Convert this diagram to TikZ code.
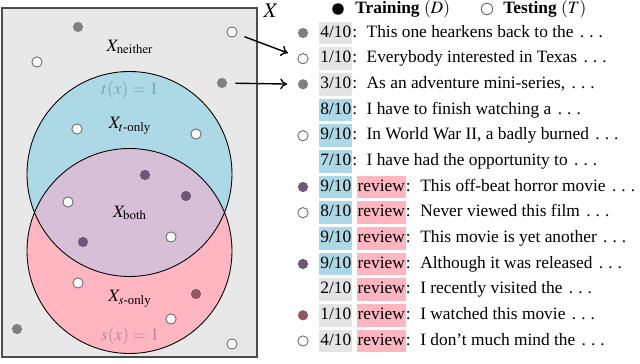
\documentclass[tikz,border=0pt]{standalone}
\usepackage{amsmath}
\usepackage{mathptmx}
\usepackage{fontspec}
\setmainfont{Liberation Serif}
\usepackage{tikz}
\usetikzlibrary{positioning,arrows.meta}
\definecolor{spacegray}{RGB}{232,232,232}
\definecolor{tblue}{RGB}{173,216,230}
\definecolor{spink}{RGB}{255,182,193}
\definecolor{bothpurple}{RGB}{216,191,216}
\definecolor{tlabel}{RGB}{122,162,176}
\definecolor{slabel}{RGB}{182,132,148}
\definecolor{dotgray}{RGB}{128,128,128}
\definecolor{dotpurple}{RGB}{110,88,120}
\definecolor{dotred}{RGB}{145,88,100}
\definecolor{ringgray}{RGB}{105,105,105}
\definecolor{boxgray}{RGB}{228,228,228}
\definecolor{boxblue}{RGB}{173,216,230}
\definecolor{revpink}{RGB}{255,182,193}
\newcommand{\scorebox}[2]{{\setlength{\fboxsep}{0.6pt}\colorbox{#1}{\strut #2}}}
\newcommand{\rvw}{\scorebox{revpink}{review}}
\newcommand{\more}{\kern1.2pt.\kern2.9pt.\kern2.9pt.}

\begin{document}
\begin{tikzpicture}[x=0.576pt, y=-0.576pt,
  font=\fontsize{10}{12}\selectfont,
  pt/.style={circle, inner sep=0pt, minimum size=5.9pt},
  trn/.style={pt, fill=dotgray},
  trnboth/.style={pt, fill=dotpurple},
  trnsonly/.style={pt, fill=dotred},
  tst/.style={pt, draw=ringgray, fill=white, line width=0.5pt},
  row/.style={anchor=west, inner sep=0pt},
  arr/.style={-{To[length=1.4mm, width=2.2mm]}, thick, shorten <=4.5pt, shorten >=6pt}
]
  \useasboundingbox (0,0) rectangle (640,364);

  % the space X and the two sets
  \draw[fill=spacegray, draw=black!70, line width=0.6pt] (2,8) rectangle (257,357);
  \fill[tblue] (129.5,174) circle [radius=102.5];
  \fill[spink] (129.5,251) circle [radius=102.5];
  \begin{scope}
    \clip (129.5,174) circle [radius=102.5];
    \fill[bothpurple] (129.5,251) circle [radius=102.5];
  \end{scope}
  \draw[line width=0.5pt] (129.5,174) circle [radius=102.5];
  \draw[line width=0.5pt] (129.5,251) circle [radius=102.5];

  \node (xlab) at (271,11) {\large $X$};
  \node (lneither) at (130,47) {$X_{\mathrm{neither}}$};
  \node[text=tlabel] (ltx) at (130,90) {$t(x)=1$};
  \node (ltonly) at (130,126) {$X_{t\text{-only}}$};
  \node (lboth) at (130,213) {$X_{\mathrm{both}}$};
  \node (lsonly) at (130,299) {$X_{s\text{-only}}$};
  \node[text=slabel] (lsx) at (130,336) {$s(x)=1$};

  % points in X
  \foreach \x/\y/\s [count=\i] in {78/27/trn, 232/32/tst, 37/62/tst, 222/83/trn,
      77/129/tst, 196/134/tst, 145/175/trnboth, 186/196/trnboth, 68/202/tst,
      83/242/trnboth, 171/237/tst, 78/283/tst, 196/294/trnsonly, 171/319/tst,
      17/329/trn, 232/344/tst}
    \node[\s] (p\i) at (\x,\y) {};

  % legend
  \node[pt, fill=black, minimum size=6.6pt] (ktrain) at (338,9) {};
  \node[row] (ltrain) at (355,9) {\textbf{Training} $(D)$};
  \node[tst, minimum size=6.6pt] (ktest) at (487,9) {};
  \node[row] (ltest) at (503,9) {\textbf{Testing} $(T)$};

  % samples
  \node[trn] (d1) at (303,33) {};
  \node[tst] (d2) at (303,58.7) {};
  \node[trn] (d3) at (303,84.3) {};
  \node[tst] (d5) at (303,135.7) {};
  \node[trnboth] (d7) at (303,187) {};
  \node[tst] (d8) at (303,212.7) {};
  \node[trnboth] (d10) at (303,264) {};
  \node[trnsonly] (d12) at (303,315.3) {};
  \node[tst] (d13) at (303,341) {};

  \node[row] (r1) at (319,33) {\scorebox{boxgray}{4/10}:\hspace{5.5pt}This one hearkens back to the \more};
  \node[row] (r2) at (319,58.7) {\scorebox{boxgray}{1/10}:\hspace{5.5pt}Everybody interested in Texas \more};
  \node[row] (r3) at (319,84.3) {\scorebox{boxgray}{3/10}:\hspace{5.5pt}As an adventure mini-series, \more};
  \node[row] (r4) at (319,110) {\scorebox{boxblue}{8/10}:\hspace{5.5pt}I have to finish watching a \more};
  \node[row] (r5) at (319,135.7) {\scorebox{boxblue}{9/10}:\hspace{5.5pt}In World War II, a badly burned \more};
  \node[row] (r6) at (319,161.3) {\scorebox{boxblue}{7/10}:\hspace{5.5pt}I have had the opportunity to \more};
  \node[row] (r7) at (319,187) {\scorebox{boxblue}{9/10} \rvw:\hspace{5.5pt}This off-beat horror movie \more};
  \node[row] (r8) at (319,212.7) {\scorebox{boxblue}{8/10} \rvw:\hspace{5.5pt}Never viewed this film \more};
  \node[row] (r9) at (319,238.3) {\scorebox{boxblue}{9/10} \rvw:\hspace{5.5pt}This movie is yet another \more};
  \node[row] (r10) at (319,264) {\scorebox{boxblue}{9/10} \rvw:\hspace{5.5pt}Although it was released \more};
  \node[row] (r11) at (319,289.7) {\scorebox{boxgray}{2/10} \rvw:\hspace{5.5pt}I recently visited the \more};
  \node[row] (r12) at (319,315.3) {\scorebox{boxgray}{1/10} \rvw:\hspace{5.5pt}I watched this movie \more};
  \node[row] (r13) at (319,341) {\scorebox{boxgray}{4/10} \rvw:\hspace{5.5pt}I don't much mind the \more};

  \draw[arr] (p2) -- (d2);
  \draw[arr] (p4) -- (d3);
\end{tikzpicture}
\end{document}
